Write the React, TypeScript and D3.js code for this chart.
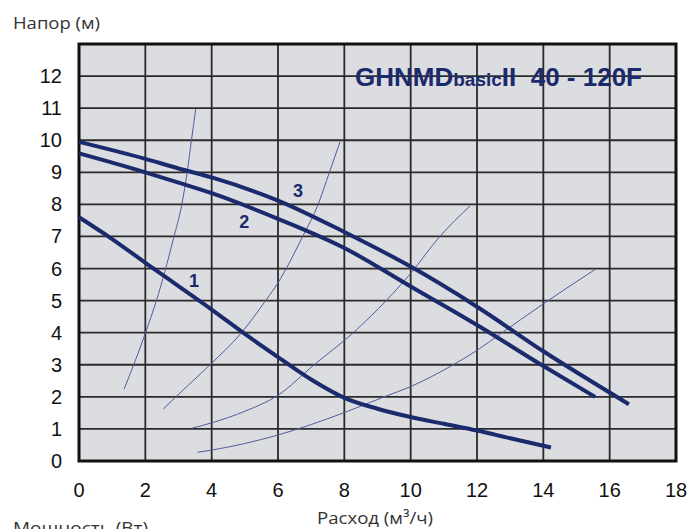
import React from "react";
import * as d3 from "d3";

const xTicks = [0, 2, 4, 6, 8, 10, 12, 14, 16, 18];
const yTicks = [0, 1, 2, 3, 4, 5, 6, 7, 8, 9, 10, 11, 12];

// Pump curves (flow m3/h, head m)
const curve1: [number, number][] = [
  [0, 7.6], [1, 6.92], [2, 6.18], [3, 5.45], [4, 4.72], [5, 3.96], [6, 3.24],
  [7, 2.54], [8, 1.97], [9, 1.63], [10, 1.37], [11, 1.16], [12, 0.95], [13, 0.71], [14.23, 0.42],
];
const curve2: [number, number][] = [
  [0, 9.59], [2, 9.0], [3, 8.68], [4, 8.35], [6, 7.55], [8, 6.64], [10, 5.44],
  [12, 4.24], [14, 2.96], [15.56, 2.0],
];
const curve3: [number, number][] = [
  [0, 9.95], [2, 9.42], [3, 9.12], [4, 8.84], [6, 8.12], [8, 7.14], [10, 6.06],
  [12, 4.81], [14, 3.42], [16.58, 1.77],
];

// Thin auxiliary curves
const thin1: [number, number][] = [
  [1.36, 2.24], [2.0, 3.98], [2.34, 5.02], [2.84, 6.9], [3.1, 8.0], [3.27, 9.06],
  [3.39, 10.0], [3.52, 10.97],
];
const thin2: [number, number][] = [
  [2.54, 1.62], [2.92, 2.0], [3.95, 3.0], [4.9, 4.0], [5.64, 5.02], [5.99, 5.54],
  [6.74, 6.99], [7.21, 8.0], [7.55, 9.0], [7.87, 9.95],
];
const thin3: [number, number][] = [
  [3.4, 1.02], [4, 1.19], [5, 1.55], [6, 2.05], [7.09, 3.0], [8.27, 4.0],
  [9.28, 5.02], [10, 5.85], [10.88, 7.0], [11.79, 7.95],
];
const thin4: [number, number][] = [
  [3.57, 0.27], [4, 0.34], [6, 0.81], [8, 1.51], [9.2, 2.0], [10, 2.32],
  [11.18, 2.94], [12, 3.45], [12.69, 3.95], [14, 4.9], [15.56, 5.97],
];

const curveLabels = [
  { text: "1", flow: 3.47, head: 5.6 },
  { text: "2", flow: 4.98, head: 7.44 },
  { text: "3", flow: 6.6, head: 8.42 },
];

const NAVY = "#1b2a6c";
const THIN = "#555a9c";

export default function App() {
  const x = d3.scaleLinear().domain([0, 18]).range([79, 676]);
  const y = d3.scaleLinear().domain([0, 13]).range([461, 44]);

  const thick = d3
    .line<[number, number]>()
    .x((d) => x(d[0]))
    .y((d) => y(d[1]))
    .curve(d3.curveMonotoneX);
  const thinLine = d3
    .line<[number, number]>()
    .x((d) => x(d[0]))
    .y((d) => y(d[1]))
    .curve(d3.curveMonotoneX);

  const axisFont = "'Liberation Sans', Arial, sans-serif";
  const labelFont = "'Open Sans', 'Noto Sans', sans-serif";

  return (
    <svg
      width={691}
      height={529}
      style={{ position: "absolute", left: 0, top: 0, background: "#fff" }}
    >
      <rect x={0} y={0} width={691} height={529} fill="#fff" />
      <rect
        x={x(0)}
        y={y(13)}
        width={x(18) - x(0)}
        height={y(0) - y(13)}
        fill="#dcdde0"
      />
      {xTicks.slice(1, -1).map((t) => (
        <line
          key={"vx" + t}
          x1={x(t)}
          x2={x(t)}
          y1={y(13)}
          y2={y(0)}
          stroke="#2a2a2a"
          strokeWidth={1.8}
        />
      ))}
      {yTicks.slice(1).map((t) => (
        <line
          key={"hy" + t}
          x1={x(0)}
          x2={x(18)}
          y1={y(t)}
          y2={y(t)}
          stroke="#2a2a2a"
          strokeWidth={1.8}
        />
      ))}
      <rect
        x={x(0)}
        y={y(13)}
        width={x(18) - x(0)}
        height={y(0) - y(13)}
        fill="none"
        stroke="#111"
        strokeWidth={3}
      />

      {[thin1, thin2, thin3, thin4].map((c, i) => (
        <path key={"t" + i} d={thinLine(c) || ""} fill="none" stroke={THIN} strokeWidth={1} />
      ))}
      {[curve1, curve2, curve3].map((c, i) => (
        <path key={"c" + i} d={thick(c) || ""} fill="none" stroke={NAVY} strokeWidth={4} />
      ))}

      {curveLabels.map((l) => (
        <text
          key={l.text}
          x={x(l.flow)}
          y={y(l.head)}
          textAnchor="middle"
          dominantBaseline="central"
          fontFamily={axisFont}
          fontWeight="bold"
          fontSize={18}
          fill={NAVY}
        >
          {l.text}
        </text>
      ))}

      <text
        x={355}
        y={86}
        fontFamily={axisFont}
        fontWeight="bold"
        fill={NAVY}
        style={{ whiteSpace: "pre" }}
      >
        <tspan fontSize={26}>GHNMD</tspan>
        <tspan fontSize={19}>basic</tspan>
        <tspan fontSize={26}>{"II  40 - 120F"}</tspan>
      </text>

      {yTicks.map((t) => (
        <text
          key={"yl" + t}
          x={62}
          y={y(t) + 7}
          textAnchor="end"
          fontFamily={axisFont}
          fontSize={20}
          fill="#111"
        >
          {t}
        </text>
      ))}
      {xTicks.map((t) => (
        <text
          key={"xl" + t}
          x={x(t)}
          y={497}
          textAnchor="middle"
          fontFamily={axisFont}
          fontSize={20}
          fill="#111"
        >
          {t}
        </text>
      ))}

      <text
        x={13}
        y={29}
        fontFamily={labelFont}
        fontSize={17}
        fill="#333"
        textLength={87}
        lengthAdjust="spacingAndGlyphs"
      >
        Напор (м)
      </text>
      <text
        x={317}
        y={524}
        fontFamily={labelFont}
        fontSize={17}
        fill="#333"
        textLength={116}
        lengthAdjust="spacingAndGlyphs"
      >
        Расход (м³/ч)
      </text>
      <text
        x={13}
        y={534}
        fontFamily={labelFont}
        fontSize={17}
        fill="#333"
        textLength={135}
        lengthAdjust="spacingAndGlyphs"
      >
        Мощность (Вт)
      </text>
    </svg>
  );
}
